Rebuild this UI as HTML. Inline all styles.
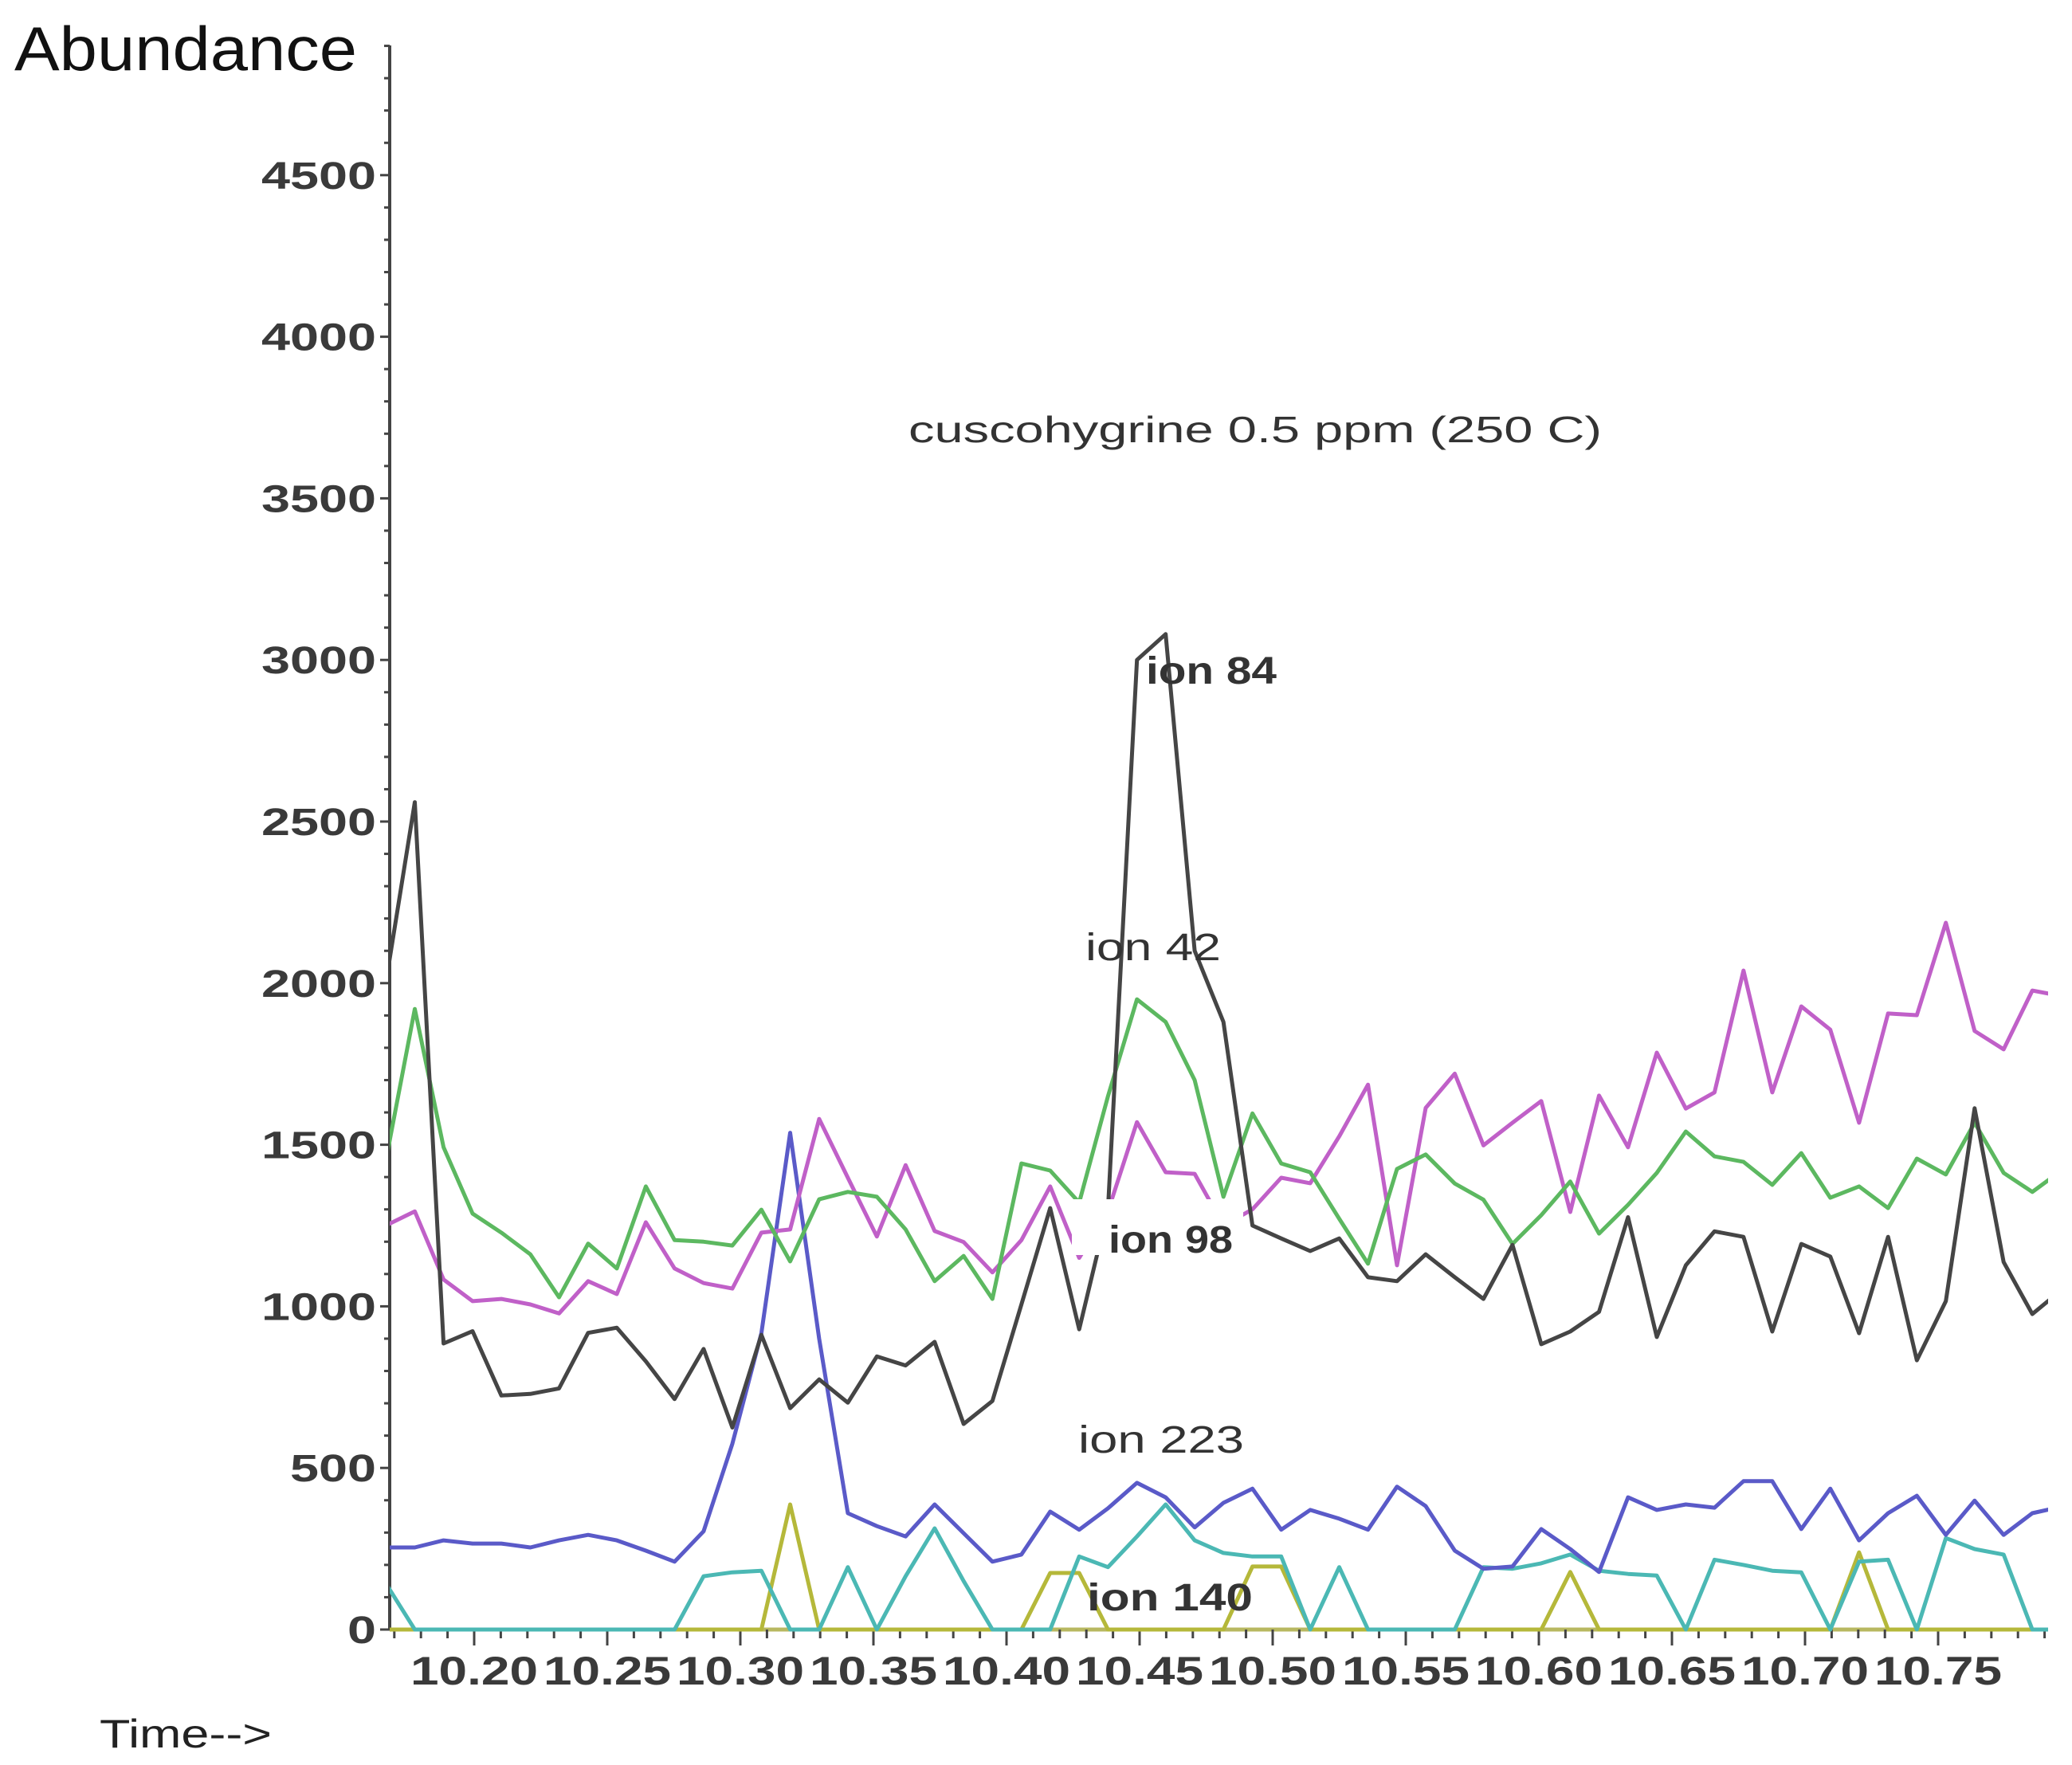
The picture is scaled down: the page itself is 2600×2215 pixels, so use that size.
<!DOCTYPE html>
<html>
<head>
<meta charset="utf-8">
<style>
  html,body{margin:0;padding:0;background:#fff;}
  svg{display:block;}
  text{font-family:"Liberation Sans",sans-serif;}
</style>
</head>
<body>
<svg id="chart" width="2600" height="2215" viewBox="0 0 2600 2215" xmlns="http://www.w3.org/2000/svg">
  <defs>
    <clipPath id="plotclip"><rect x="489" y="40" width="2081" height="2010"/></clipPath>
  </defs>
  <rect x="0" y="0" width="2600" height="2215" fill="#ffffff"/>
  <text x="18" y="88" font-size="78" fill="#111" textLength="430" lengthAdjust="spacingAndGlyphs">Abundance</text>
  <text x="125" y="2193" font-size="50" fill="#222" textLength="216" lengthAdjust="spacingAndGlyphs">Time--&gt;</text>
  <g id="axes"></g>
  <g id="series" clip-path="url(#plotclip)"></g>
  <g id="labels"></g>
</svg>
<script>
const times = [10.1668,10.1777,10.1885,10.1994,10.2102,10.2211,10.2319,10.2428,10.2536,10.2645,
10.2753,10.2862,10.2970,10.3079,10.3187,10.3296,10.3404,10.3513,10.3621,10.3730,
10.3839,10.3947,10.4056,10.4164,10.4273,10.4381,10.4490,10.4598,10.4707,10.4815,
10.4924,10.5032,10.5141,10.5250,10.5358,10.5467,10.5575,10.5684,10.5792,10.5901,
10.6009,10.6118,10.6226,10.6335,10.6443,10.6552,10.6660,10.6769,10.6877,10.6986,
10.7095,10.7203,10.7312,10.7420,10.7529,10.7637,10.7746,10.7854,10.7963];
const ion84 = [2000,2560,885,923,724,729,746,918,934,830,713,868,625,912,685,774,702,845,817,890,
636,707,1006,1304,929,1300,3000,3080,2100,1880,1250,1210,1171,1210,1090,1078,1161,1090,1023,1190,
883,922,983,1276,905,1127,1232,1215,922,1193,1154,917,1215,833,1016,1613,1137,976,1050];
const ion42 = [1450,1920,1492,1287,1228,1161,1028,1194,1117,1371,1205,1200,1188,1299,1139,1331,1354,1339,1238,1078,
1156,1023,1442,1420,1321,1650,1950,1880,1700,1339,1597,1442,1415,1271,1132,1425,1470,1380,1330,1193,
1282,1386,1225,1314,1413,1541,1464,1447,1376,1474,1336,1371,1304,1457,1408,1568,1413,1354,1420];
const ionMag = [1250,1294,1083,1016,1023,1006,978,1078,1038,1260,1117,1072,1055,1228,1238,1580,1398,1216,1437,1233,
1199,1105,1205,1371,1150,1294,1570,1415,1410,1250,1300,1398,1381,1526,1686,1127,1614,1720,1498,1568,
1635,1292,1652,1492,1785,1612,1662,2039,1662,1928,1856,1568,1906,1901,2187,1852,1795,1977,1960];
const ion223 = [254,254,276,266,266,254,276,293,276,244,210,304,575,917,1537,900,360,320,288,387,
298,210,232,365,309,375,454,409,316,392,436,309,370,343,309,442,382,244,188,195,
311,249,178,409,370,387,377,459,459,311,436,276,360,414,293,399,293,360,380];
const ionTeal = [143,0,0,0,0,0,0,0,0,0,0,165,177,182,0,0,193,0,165,313,
150,0,0,0,226,193,288,387,276,237,226,226,0,193,0,0,0,0,193,188,
205,232,182,172,167,0,216,200,182,177,0,210,216,0,283,249,232,0,0];
const ion140 = [0,0,0,0,0,0,0,0,0,0,0,0,0,0,387,0,0,0,0,0,
0,0,0,175,175,0,0,0,0,0,195,195,0,0,0,0,0,0,0,0,
0,178,0,0,0,0,0,0,0,0,0,239,0,0,0,0,0,0,0];
const yTicks = [0,500,1000,1500,2000,2500,3000,3500,4000,4500];
const xTickLabels = ["10.20","10.25","10.30","10.35","10.40","10.45","10.50","10.55","10.60","10.65","10.70","10.75"];
const xTickValues = [10.20,10.25,10.30,10.35,10.40,10.45,10.50,10.55,10.60,10.65,10.70,10.75];

const NS = "http://www.w3.org/2000/svg";
const X0 = 489, X1 = 2570, Y0 = 2045;
function xs(t){ return 595 + (t - 10.20) / 0.05 * 167; }
function ys(v){ return Y0 - v / 500 * 202.8; }
function mk(tag, attrs, parent){
  const e = document.createElementNS(NS, tag);
  for (const k in attrs) e.setAttribute(k, attrs[k]);
  parent.appendChild(e);
  return e;
}
const axes = document.getElementById('axes');
const yAxis = mk('line', {x1:X0, y1:57, x2:X0, y2:Y0, stroke:'#444', 'stroke-width':4}, axes);


for (let v = 0; v <= 4900; v += 100){
  const major = v % 500 === 0;
  const tk = mk('line', {x1:X0 - (major?12:7), y1:ys(v), x2:X0, y2:ys(v), stroke:'#444', 'stroke-width':3}, axes);
  
  
}
yTicks.forEach(function(v){
  const w = String(v).length * 36;
  const t = mk('text', {x:472, y:ys(v)+17, 'font-size':48, 'font-weight':'bold', fill:'#3a3a3a', 'text-anchor':'end', textLength:w, lengthAdjust:'spacingAndGlyphs'}, axes);
  
  
  t.textContent = String(v);
});
const xAxis = mk('line', {x1:X0, y1:Y0, x2:X1, y2:Y0, stroke:'#b8b860', 'stroke-width':5}, axes);


for (let k = 0; k < 63; k++){
  const t = 10.17 + k * 0.01;
  const x = xs(t);
  if (x < X0 || x > X1) continue;
  const major = (Math.round(t * 100) % 5) === 0;
  const tk = mk('line', {x1:x, y1:Y0, x2:x, y2:Y0 + (major?20:11), stroke:'#444', 'stroke-width':3}, axes);
  
  
}
xTickValues.forEach(function(v, i){
  const t = mk('text', {x:xs(v), y:2114, 'font-size':50, 'font-weight':'bold', fill:'#3a3a3a', 'text-anchor':'middle', textLength:160, lengthAdjust:'spacingAndGlyphs'}, axes);
  
  
  t.textContent = xTickLabels[i];
});

const seriesG = document.getElementById('series');
function drawSeries(vals, color, name){
  let d = '';
  vals.forEach(function(v, i){ d += (i ? 'L' : 'M') + xs(times[i]).toFixed(1) + ',' + ys(v).toFixed(1); });
  const p = mk('path', {d:d, fill:'none', stroke:color, 'stroke-width':5, 'stroke-linejoin':'round'}, seriesG);
  
  
}
drawSeries(ion140, '#b5b83a', 'series-ion-140-olive');
drawSeries(ionTeal, '#4bb8b4', 'series-ion-140-teal');
drawSeries(ion223, '#5a5ac8', 'series-ion-223');
drawSeries(ionMag, '#c060c8', 'series-ion-magenta');
drawSeries(ion42, '#5cb860', 'series-ion-42');
drawSeries(ion84, '#454545', 'series-ion-84');

const lab = document.getElementById('labels');
const bg = mk('rect', {x:1345, y:1505, width:215, height:70, fill:'#ffffff'}, lab);


function label(txt, x, y, w, fs, name, weight){
  const t = mk('text', {x:x, y:y, 'font-size':fs, fill:'#333', textLength:w, lengthAdjust:'spacingAndGlyphs', 'font-weight':weight||'normal'}, lab);
  
  
  t.textContent = txt;
}
label('cuscohygrine 0.5 ppm (250 C)', 1140, 555, 870, 46, 'chart-title', 'normal');
label('ion 84', 1438, 858, 164, 48, 'label-ion-84', 'bold');
label('ion 42', 1362, 1205, 170, 48, 'label-ion-42', 'normal');
label('ion 98', 1391, 1572, 156, 48, 'label-ion-98', 'bold');
label('ion 223', 1353, 1823, 208, 48, 'label-ion-223', 'normal');
label('ion 140', 1364, 2021, 208, 48, 'label-ion-140', 'bold');
</script>
</body>
</html>
